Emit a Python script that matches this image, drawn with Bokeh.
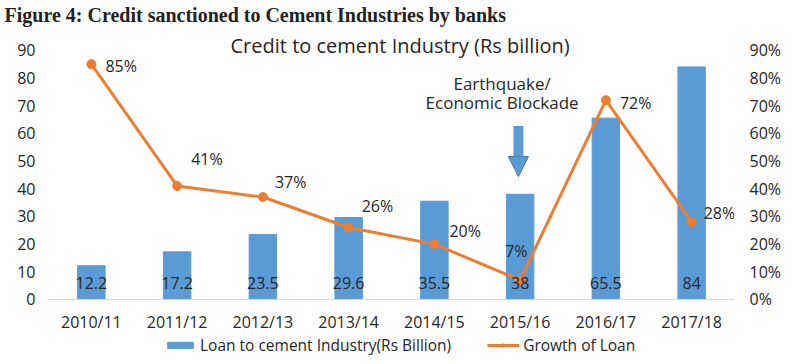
from bokeh.plotting import figure
from bokeh.models import (ColumnDataSource, Range1d, LinearAxis, FixedTicker, Legend, LegendItem,
                          Label, LabelSet, Arrow, NormalHead, Title, Span)
from bokeh.core.properties import value
from bokeh.embed import file_html
from bokeh.resources import INLINE

categories = ["2010/11", "2011/12", "2012/13", "2013/14", "2014/15", "2015/16", "2016/17", "2017/18"]
loan = [12.2, 17.2, 23.5, 29.6, 35.5, 38, 65.5, 84]
loan_labels = ["12.2", "17.2", "23.5", "29.6", "35.5", "38", "65.5", "84"]
growth = [85, 41, 37, 26, 20, 7, 72, 28]
growth_labels = ["85%", "41%", "37%", "26%", "20%", "7%", "72%", "28%"]
left_ticks = [0, 10, 20, 30, 40, 50, 60, 70, 80, 90]
right_ticks = [0, 10, 20, 30, 40, 50, 60, 70, 80, 90]
event_category = "2015/16"
event_text = ["Earthquake/", "Economic Blockade"]
chart_title = "Credit to cement Industry (Rs billion)"
fig_title = "Figure 4: Credit sanctioned to Cement Industries by banks"

# styling (label offsets in screen pixels, y positive = up)
g_xoff = [14, 14, 12, 13, 15, -15, 14, 12]
g_yoff = [-2, 27, 15, 21, 13, 29, -3, 9]

BLUE = "#5b9bd5"
ORANGE = "#ed7d31"
TXT = "#262626"
FONT = "Open Sans"

X0, X1 = -0.5, 7.5
Y_BOT, Y_TOP = -20.6, 98.6

xs = list(range(len(categories)))
bar_src = ColumnDataSource(dict(x=xs, loan=loan, lab=loan_labels))
cat_src = ColumnDataSource(dict(x=xs, cat=categories))
line_src = ColumnDataSource(dict(x=xs, growth=growth, lab=growth_labels, xo=g_xoff, yo=g_yoff))

p = figure(frame_width=686, frame_height=330, x_range=Range1d(X0, X1), y_range=Range1d(Y_BOT, Y_TOP),
           output_backend="svg", toolbar_location=None,
           min_border_left=0, min_border_right=0, min_border_top=0, min_border_bottom=0)
p.title = Title(text=fig_title, align="left", text_font="Liberation Serif", text_font_size="20px",
                text_font_style="bold", text_color="#231f20", standoff=2, offset=-44)
p.outline_line_color = None
p.xgrid.grid_line_color = None
p.ygrid.grid_line_color = None
p.xaxis.visible = False

p.extra_y_ranges = {"pct": Range1d(Y_BOT, Y_TOP)}

# category axis baseline and labels
p.add_layout(Span(location=0, dimension="width", line_color="#d9d9d9", line_width=1))
p.text(x="x", y=0, text="cat", source=cat_src, text_align="center", text_baseline="middle",
       y_offset=23, text_font=value(FONT), text_font_size="16px", text_color=TXT)

bars = p.vbar(x="x", top="loan", width=0.32, source=bar_src, fill_color=BLUE, line_color=BLUE)
line = p.line(x="x", y="growth", source=line_src, y_range_name="pct", line_color=ORANGE, line_width=3)
pts = p.scatter(x="x", y="growth", source=line_src, y_range_name="pct", size=9,
                fill_color=ORANGE, line_color=ORANGE)

p.text(x="x", y=0, text="lab", source=bar_src, text_align="center", text_baseline="middle",
       y_offset=-16, text_font=value(FONT), text_font_size="16px", text_color=TXT)

p.add_layout(LabelSet(x="x", y="growth", text="lab", source=line_src, y_range_name="pct",
                      x_offset="xo", y_offset="yo", text_align="left", text_baseline="middle",
                      text_font=value(FONT), text_font_size=value("16px"), text_color=TXT))

# chart title inside the top headroom of the frame
p.add_layout(Label(x=(X0 + X1) / 2 + 0.1, y=91.8, text=chart_title, text_align="center",
                   text_baseline="middle", text_font=FONT, text_font_size="20px", text_color=TXT))

# value axes
ya = p.yaxis[0]
ya.ticker = FixedTicker(ticks=left_ticks)
ya.axis_line_color = None
ya.major_tick_line_color = None
ya.major_tick_out = 0
ya.major_tick_in = 0
ya.minor_tick_line_color = None
ya.major_label_text_font = FONT
ya.major_label_text_font_size = "16px"
ya.major_label_text_color = TXT
ya.major_label_text_align = "right"
ya.major_label_standoff = 13
ya.axis_label = " "
ya.axis_label_text_font_size = "10px"
ya.axis_label_standoff = 0

ra = LinearAxis(y_range_name="pct", ticker=FixedTicker(ticks=right_ticks),
                major_label_overrides={t: f"{t}%" for t in right_ticks})
ra.axis_line_color = None
ra.major_tick_line_color = None
ra.major_tick_out = 0
ra.major_tick_in = 0
ra.minor_tick_line_color = None
ra.major_label_text_font = FONT
ra.major_label_text_font_size = "16px"
ra.major_label_text_color = TXT
ra.major_label_standoff = 15
p.add_layout(ra, "right")

# annotation
ei = categories.index(event_category)
ev_val = loan[ei]
p.add_layout(Label(x=ei - 0.21, y=ev_val + 40.1, text=event_text[0], text_align="center",
                   text_baseline="middle", text_font=FONT, text_font_size="17px", text_color=TXT))
p.add_layout(Label(x=ei - 0.21, y=ev_val + 33.3, text=event_text[1], text_align="center",
                   text_baseline="middle", text_font=FONT, text_font_size="17px", text_color=TXT))
p.add_layout(Arrow(end=NormalHead(size=20, fill_color=BLUE, line_color="#41719c", line_width=1),
                   x_start=ei - 0.02, y_start=ev_val + 24.7, x_end=ei - 0.02, y_end=ev_val + 6.4,
                   line_width=10, line_color=BLUE))

legend = Legend(items=[LegendItem(label="Loan to cement Industry(Rs Billion)", renderers=[bars]),
                       LegendItem(label="Growth of Loan", renderers=[line, pts])],
                orientation="horizontal", location=(116, 0), border_line_color=None,
                background_fill_alpha=0, label_text_font=FONT, label_text_font_size="15.5px",
                label_text_color=TXT, glyph_width=32, glyph_height=8, spacing=36,
                label_standoff=4, padding=0, margin=0)
p.add_layout(legend)

open("out.html", "w").write(file_html(p, INLINE))
